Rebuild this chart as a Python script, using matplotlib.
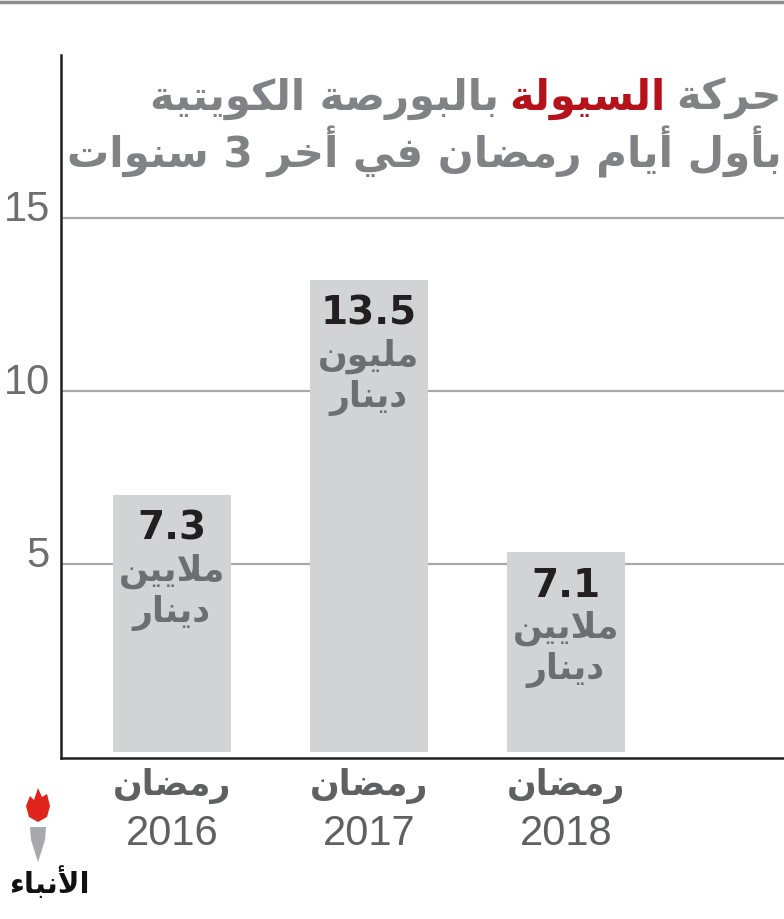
import re

import matplotlib
matplotlib.use('Agg')
import matplotlib.pyplot as plt
from matplotlib.lines import Line2D
from matplotlib.patches import Polygon

years = ['2016', '2017', '2018']
month_label = 'رمضان'
bar_heights = [7.0, 13.2, 5.35]          # heights as drawn
value_labels = ['7.3', '13.5', '7.1']    # figures printed on the bars
unit_top = ['ملايين', 'مليون', 'ملايين']
unit_bottom = ['دينار', 'دينار', 'دينار']
y_ticks = [5, 10, 15]
title_parts = ['حركة', 'السيولة', 'بالبورصة الكويتية']
subtitle = 'بأول أيام رمضان في أخر 3 سنوات'
logo_text = 'الأنباء'

BAR_BASE = -0.43
W, H = 784, 919

GREY_TITLE = '#808285'
GREY_TEXT = '#5f6062'
RED = '#b5121b'

# matplotlib has no arabic shaping, so pick presentation forms by hand
DUAL = {'ب': 0xFE8F, 'ت': 0xFE95, 'ث': 0xFE99, 'ج': 0xFE9D, 'ح': 0xFEA1, 'خ': 0xFEA5,
        'س': 0xFEB1, 'ش': 0xFEB5, 'ص': 0xFEB9, 'ض': 0xFEBD, 'ط': 0xFEC1, 'ظ': 0xFEC5,
        'ع': 0xFEC9, 'غ': 0xFECD, 'ف': 0xFED1, 'ق': 0xFED5, 'ك': 0xFED9, 'ل': 0xFEDD,
        'م': 0xFEE1, 'ن': 0xFEE5, 'ه': 0xFEE9, 'ي': 0xFEF1, 'ئ': 0xFE89}
RIGHT = {'آ': 0xFE81, 'أ': 0xFE83, 'ؤ': 0xFE85, 'إ': 0xFE87, 'ا': 0xFE8D, 'ة': 0xFE93,
         'د': 0xFEA9, 'ذ': 0xFEAB, 'ر': 0xFEAD, 'ز': 0xFEAF, 'و': 0xFEED, 'ى': 0xFEEF}
LAM_ALEF = {'آ': 0xFEF5, 'أ': 0xFEF7, 'إ': 0xFEF9, 'ا': 0xFEFB}


def arabic(text):
    units = []
    i = 0
    while i < len(text):
        c = text[i]
        nxt = text[i + 1] if i + 1 < len(text) else ''
        if c == 'ل' and nxt in LAM_ALEF:
            units.append(('R', LAM_ALEF[nxt]))
            i += 2
            continue
        if c in DUAL:
            units.append(('D', DUAL[c]))
        elif c in RIGHT:
            units.append(('R', RIGHT[c]))
        else:
            units.append(('N', c))
        i += 1

    out = []
    for k, (kind, base) in enumerate(units):
        if kind == 'N':
            out.append(base)
            continue
        prev = units[k - 1][0] if k > 0 else 'N'
        after = units[k + 1][0] if k + 1 < len(units) else 'N'
        join_prev = prev == 'D'
        join_next = kind == 'D' and after in ('D', 'R')
        if join_prev and join_next:
            off = 3
        elif join_prev:
            off = 1
        elif join_next:
            off = 2
        else:
            off = 0
        out.append(chr(base + off))

    # visual order, numbers stay left to right
    tokens = re.findall(r'[0-9.]+|.', ''.join(out))
    return ''.join(reversed(tokens))


def fx(x):
    return x / W


def fy(y):
    return 1 - y / H


fig = plt.figure(figsize=(W / 100, H / 100), dpi=100)
ax = fig.add_axes([fx(61), fy(758), fx(W - 61), (758 - 55) / H])

x = list(range(len(years)))
ax.bar(x, [h - BAR_BASE for h in bar_heights], bottom=BAR_BASE, width=0.6,
       color='#d1d3d4', zorder=2)

ax.set_xlim(-0.563, 3.107)
ax.set_ylim(-0.61, 19.7)
ax.set_yticks(y_ticks)
ax.set_xticks([])
ax.grid(axis='y', color='#a7a9ac', lw=1.6, zorder=1)
ax.set_axisbelow(True)
ax.tick_params(length=0, labelleft=False)
for side in ['top', 'right']:
    ax.spines[side].set_visible(False)
for side in ['left', 'bottom']:
    ax.spines[side].set_color('#231f20')
    ax.spines[side].set_linewidth(1.8)

for t in y_ticks:
    ax.annotate(str(t), xy=(0, t), xycoords=ax.get_yaxis_transform(),
                xytext=(-11, 8), textcoords='offset pixels', ha='right', va='center',
                fontsize=30, family='Liberation Sans', color='#6d6e71')

for i in x:
    ax.annotate(value_labels[i], xy=(i, bar_heights[i]), xytext=(0, -45),
                textcoords='offset pixels', ha='center', va='baseline',
                fontsize=28, fontweight='bold', family='DejaVu Sans', color='#231f20')
    ax.annotate(arabic(unit_top[i]), xy=(i, bar_heights[i]), xytext=(0, -86),
                textcoords='offset pixels', ha='center', va='baseline',
                fontsize=25, fontweight='bold', family='DejaVu Sans', color='#6d6e71')
    ax.annotate(arabic(unit_bottom[i]), xy=(i, bar_heights[i]), xytext=(0, -127),
                textcoords='offset pixels', ha='center', va='baseline',
                fontsize=25, fontweight='bold', family='DejaVu Sans', color='#6d6e71')
    ax.annotate(arabic(month_label), xy=(i, 0), xycoords=ax.get_xaxis_transform(),
                xytext=(0, -37), textcoords='offset pixels', ha='center', va='baseline',
                fontsize=25, fontweight='bold', family='DejaVu Sans', color=GREY_TEXT)
    ax.annotate(years[i], xy=(i, 0), xycoords=ax.get_xaxis_transform(),
                xytext=(0, -87), textcoords='offset pixels', ha='center', va='baseline',
                fontsize=30, family='Liberation Sans', color=GREY_TEXT)

# rule across the top
fig.add_artist(Line2D([0, 1], [fy(2), fy(2)], transform=fig.transFigure,
                      color='#8a8c8e', lw=2.5))

# title, right aligned; one word in red. font size is fitted to the width
renderer = fig.canvas.get_renderer()
title_right = W - 2


def title_kw(size):
    return dict(fontsize=size, fontweight='bold', family='DejaVu Sans',
                va='baseline', ha='right')


def draw_line1(size):
    right = title_right
    texts = []
    for part, colour in zip(title_parts, [GREY_TITLE, RED, GREY_TITLE]):
        txt = fig.text(fx(right), fy(110), arabic(part), color=colour, **title_kw(size))
        texts.append(txt)
        right = txt.get_window_extent(renderer).x0 - size * 0.35
    return texts


def draw_line2(size):
    return fig.text(fx(title_right), fy(167), arabic(subtitle), color=GREY_TITLE,
                    **title_kw(size))


trial1 = draw_line1(30)
trial2 = draw_line2(30)
left1 = trial1[-1].get_window_extent(renderer).x0
left2 = trial2.get_window_extent(renderer).x0
for t in trial1 + [trial2]:
    t.remove()
draw_line1(30 * (title_right - 150) / (title_right - left1))
draw_line2(30 * (title_right - 67) / (title_right - left2))

# paper logo, bottom left
flame = [(38, 788), (42, 797), (47, 794), (50, 806), (47, 817), (38, 822),
         (29, 817), (26, 806), (30, 796), (34, 800)]
nib = [(30, 827), (46, 827), (45, 840), (38, 862), (31, 840)]
for pts, colour in [(flame, '#e0231c'), (nib, '#a7a9ac')]:
    fig.add_artist(Polygon([(fx(a), fy(b)) for a, b in pts], closed=True,
                           transform=fig.transFigure, color=colour, lw=0))
fig.text(fx(90), fy(893), arabic(logo_text), ha='right', va='baseline', fontsize=21,
         fontweight='bold', family='DejaVu Sans', color='#111111')

fig.savefig('out.png', dpi=100)
